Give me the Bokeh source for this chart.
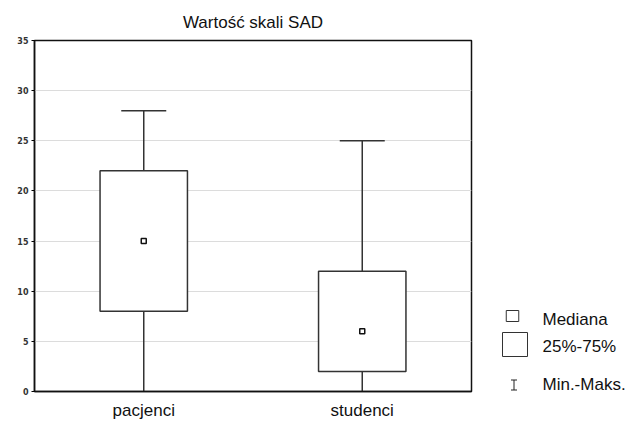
from bokeh.plotting import figure
from bokeh.models import (ColumnDataSource, FactorRange, Range1d, Whisker, TeeHead,
                          FixedTicker)
from bokeh.layouts import row
from bokeh.core.properties import value
from bokeh.embed import file_html
from bokeh.resources import INLINE

# ---- data ----
categories = ["pacjenci", "studenci"]
minimum = [0, 0]
q1 = [8, 2]
median = [15, 6]
q3 = [22, 12]
maximum = [28, 25]
y_ticks = [0, 5, 10, 15, 20, 25, 30, 35]
title_text = "Wartość skali SAD"
legend_labels = ["Mediana", "25%-75%", "Min.-Maks."]

FONT = "Liberation Sans"
EDGE = "#333333"
H = 424
TOP, BOTTOM = 40, 33

src = ColumnDataSource(dict(x=categories, lo=minimum, q1=q1, med=median, q3=q3, hi=maximum))

p = figure(x_range=FactorRange(*categories), y_range=Range1d(0, 35),
           width=488, height=H, output_backend="svg", toolbar_location=None,
           min_border_left=34, min_border_right=17, min_border_top=TOP, min_border_bottom=BOTTOM,
           title=title_text)
p.title.align = "center"
p.title.text_font = FONT
p.title.text_font_size = "17px"
p.title.text_font_style = "normal"
p.title.text_color = "#111111"
p.title.standoff = 17

p.outline_line_color = "#111111"
p.outline_line_width = 1.5
p.background_fill_color = "white"
p.border_fill_color = "white"

p.xgrid.grid_line_color = None
p.ygrid.grid_line_color = "#dcdcdc"
p.ygrid.grid_line_width = 1
p.ygrid.ticker = FixedTicker(ticks=y_ticks)

p.yaxis.ticker = FixedTicker(ticks=y_ticks)
p.yaxis.major_label_text_font = "DejaVu Sans"
p.yaxis.major_label_text_font_size = "8px"
p.yaxis.major_label_text_font_style = "bold"
p.yaxis.major_label_text_color = "#333333"
p.yaxis.major_tick_out = 3
p.yaxis.major_tick_in = 0
p.yaxis.minor_tick_line_color = None
p.yaxis.major_label_standoff = 3
p.yaxis.axis_line_color = "#111111"
p.yaxis.axis_line_width = 1.5

p.xaxis.major_label_text_font = FONT
p.xaxis.major_label_text_font_size = "17px"
p.xaxis.major_label_text_color = "#111111"
p.xaxis.major_tick_out = 0
p.xaxis.major_tick_in = 0
p.xaxis.major_label_standoff = 9
p.xaxis.axis_line_color = "#111111"
p.xaxis.axis_line_width = 1.5

wh = Whisker(source=src, base="x", lower="lo", upper="hi",
             line_color=EDGE, line_width=1.5,
             upper_head=TeeHead(size=45, line_color=EDGE, line_width=1.5),
             lower_head=None, level="underlay")
p.add_layout(wh)

p.vbar(x="x", width=0.4, bottom="q1", top="q3", source=src,
       fill_color="white", line_color=EDGE, line_width=1.5)
p.scatter(x="x", y="med", source=src, marker="square", size=5,
          fill_color="white", line_color="#111111", line_width=1.5)

# ---- legend panel (frame aligned with the main plot's frame; y in page pixels) ----
q = figure(width=140, height=H, x_range=Range1d(0, 140), y_range=Range1d(H - BOTTOM, TOP),
           output_backend="svg", toolbar_location=None,
           x_axis_location=None, y_axis_location=None,
           min_border_left=0, min_border_right=0,
           min_border_top=TOP, min_border_bottom=BOTTOM, outline_line_color=None)
q.grid.visible = False
q.background_fill_color = "white"
q.border_fill_color = "white"

q.rect(x=[24], y=[315.5], width=[12.5], height=[11], fill_color="white",
       line_color=EDGE, line_width=1)
q.rect(x=[26.5], y=[344], width=[25], height=[24], fill_color="white",
       line_color=EDGE, line_width=1)
# min-max symbol: vertical bar with two short caps
q.segment(x0=[25.5, 22.5, 22.5], y0=[379.5, 379.5, 389.5],
          x1=[25.5, 28.5, 28.5], y1=[389.5, 379.5, 389.5],
          line_color="#222222", line_width=1)
q.text(x=[54, 54, 54], y=[319, 346, 384], text=legend_labels,
       text_font=value(FONT), text_font_size="17px", text_baseline="middle",
       text_color="#111111")

layout = row(p, q)
open("out.html", "w").write(file_html(layout, INLINE))
